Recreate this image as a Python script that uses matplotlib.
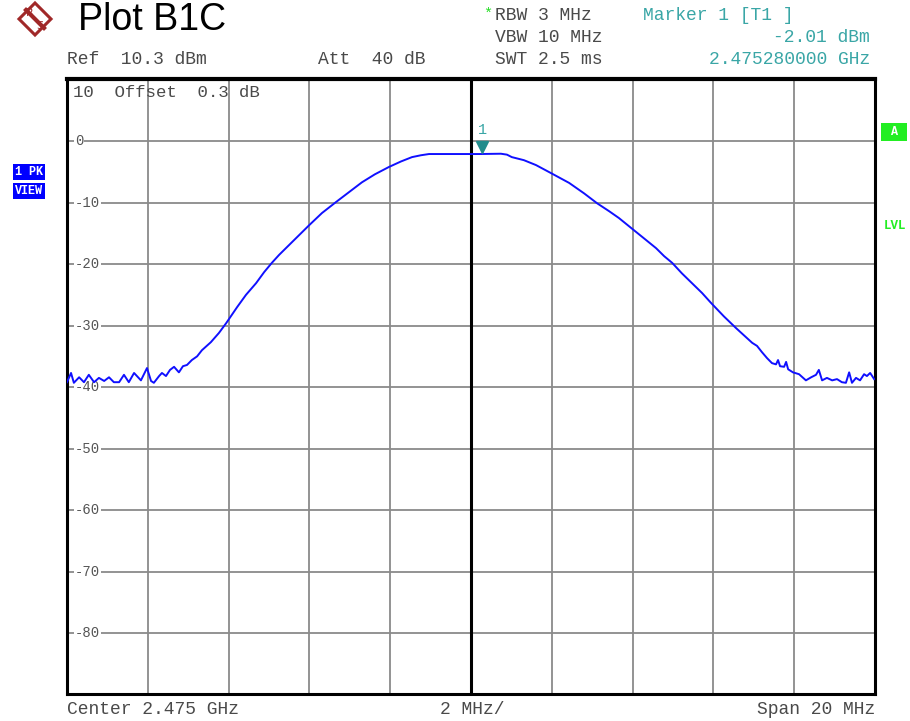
import matplotlib.pyplot as plt
from matplotlib.patches import Polygon

# trace: frequency offset from 2.475 GHz (MHz) and level (dBm)
freq = [-10.0, -9.90, -9.83, -9.70, -9.58, -9.46, -9.33, -9.21, -9.08, -8.96,
        -8.84, -8.71, -8.59, -8.47, -8.34, -8.17, -8.02, -7.92, -7.85, -7.72,
        -7.65, -7.55, -7.45, -7.35, -7.23, -7.13, -7.03, -6.91, -6.78, -6.66,
        -6.44, -6.24, -6.06, -5.79, -5.57, -5.32, -5.12, -4.93, -4.75, -4.38,
        -4.01, -3.69, -3.34, -3.02, -2.70, -2.38, -2.03, -1.73, -1.46, -1.24,
        -1.04, 0.20, 0.74, 0.89, 1.01, 1.31, 1.61, 1.98, 2.43, 2.80,
        3.12, 3.42, 3.66, 3.96, 4.28, 4.58, 4.78, 4.98, 5.22, 5.47,
        5.72, 5.94, 6.26, 6.56, 6.81, 6.96, 7.08, 7.20, 7.33, 7.45,
        7.55, 7.60, 7.65, 7.75, 7.80, 7.85, 7.97, 8.12, 8.29, 8.42,
        8.54, 8.61, 8.69, 8.81, 8.94, 9.06, 9.18, 9.28, 9.36, 9.43,
        9.53, 9.63, 9.73, 9.80, 9.88, 9.98]
level = [-39.2, -37.7, -39.3, -38.4, -39.2, -38.0, -39.2, -38.5, -39.0, -38.4,
         -39.2, -39.2, -38.0, -39.2, -37.7, -38.9, -36.9, -39.0, -39.3, -38.2,
         -37.7, -38.2, -37.2, -36.7, -37.6, -36.6, -36.4, -35.6, -35.0, -34.0,
         -32.7, -31.2, -29.6, -27.0, -25.0, -23.1, -21.3, -19.8, -18.5, -16.1,
         -13.7, -11.7, -9.9, -8.3, -6.7, -5.4, -4.2, -3.3, -2.6, -2.3,
         -2.1, -2.1, -2.05, -2.2, -2.6, -3.1, -3.9, -5.2, -6.8, -8.5,
         -10.1, -11.4, -12.5, -14.1, -15.8, -17.4, -18.7, -19.8, -21.5, -23.1,
         -24.7, -26.3, -28.5, -30.4, -31.9, -32.8, -33.3, -34.3, -35.3, -36.1,
         -36.3, -35.6, -36.6, -36.7, -35.9, -37.1, -37.6, -37.9, -38.9, -38.4,
         -38.0, -37.2, -38.9, -38.5, -38.9, -38.7, -39.2, -39.3, -37.6, -39.3,
         -38.5, -38.9, -37.9, -38.2, -37.7, -38.7]

marker_f = 0.28
marker_lvl = -2.01
y_grid = [0, -10, -20, -30, -40, -50, -60, -70, -80]
x_grid = [-8, -6, -4, -2, 2, 4, 6, 8]

W, H = 910, 721
mono = 'Liberation Mono'
grey_txt = '#4a4a4a'
teal = '#3aa6a6'
fs = 13


def px(x, y):
    return x / W, 1 - y / H


fig = plt.figure(figsize=(W / 100, H / 100), dpi=100)
ax = fig.add_axes([67 / W, 1 - 694 / H, 808 / W, 615 / H])
ax.set_xlim(-10, 10)
ax.set_ylim(-89.9, 10.1)
ax.set_xticks([])
ax.set_yticks([])
for s in ax.spines.values():
    s.set_linewidth(2.2)
    s.set_color('black')
ax.spines['top'].set_linewidth(3)

for g in y_grid:
    ax.axhline(g, color='#8a8a8a', lw=1.3, zorder=1)
for g in x_grid:
    ax.axvline(g, color='#8a8a8a', lw=1.3, zorder=1)
ax.axvline(0, color='black', lw=2.2, zorder=1)

# level labels on the left edge
for g in y_grid:
    ax.text(-9.8, g, str(g), family=mono, fontsize=10, color='#555555',
            va='center', ha='left', zorder=2,
            bbox=dict(facecolor='white', edgecolor='none', pad=0.6))
ax.text(-9.85, 7.9, '10  Offset  0.3 dB', family=mono, fontsize=12.5,
        color=grey_txt, va='center', ha='left', zorder=3)

ax.plot(freq, level, color='#1010ff', lw=1.4, zorder=4)

# marker 1
ax.plot([marker_f], [marker_lvl + 1.1], marker='v', color='#218c8c',
        markersize=8, zorder=5)
ax.text(marker_f, marker_lvl + 2.6, '1', family=mono, fontsize=11,
        color=teal, ha='center', va='bottom', zorder=5)

# header
d = 16
diamond = Polygon([px(35, 19 - d), px(35 + d, 19), px(35, 19 + d), px(35 - d, 19)],
                  closed=True, transform=fig.transFigure, facecolor='white',
                  edgecolor='#a02828', lw=2.2)
fig.patches.append(diamond)
fig.lines.append(plt.Line2D([px(26, 10)[0], px(44, 28)[0]], [px(26, 10)[1], px(44, 28)[1]],
                            transform=fig.transFigure, color='#a02828', lw=3))
fig.text(*px(30, 13), 'R', fontsize=8, color='#a02828', ha='center', va='center')
fig.text(*px(40, 26), 'S', fontsize=8, color='#a02828', ha='center', va='center')
fig.text(*px(78, 20), 'Plot B1C', fontsize=27, family='Liberation Sans',
         color='black', ha='left', va='center')

fig.text(*px(483, 14), '*', family=mono, fontsize=11, color='#22dd22',
         ha='left', va='center')
fig.text(*px(495, 15), 'RBW 3 MHz', family=mono, fontsize=fs, color=grey_txt,
         ha='left', va='center')
fig.text(*px(495, 37), 'VBW 10 MHz', family=mono, fontsize=fs, color=grey_txt,
         ha='left', va='center')
fig.text(*px(495, 59), 'SWT 2.5 ms', family=mono, fontsize=fs, color=grey_txt,
         ha='left', va='center')
fig.text(*px(643, 15), 'Marker 1 [T1 ]', family=mono, fontsize=fs, color=teal,
         ha='left', va='center')
fig.text(*px(870, 37), '-2.01 dBm', family=mono, fontsize=fs, color=teal,
         ha='right', va='center')
fig.text(*px(870, 59), '2.475280000 GHz', family=mono, fontsize=fs, color=teal,
         ha='right', va='center')
fig.text(*px(67, 59), 'Ref  10.3 dBm', family=mono, fontsize=fs, color=grey_txt,
         ha='left', va='center')
fig.text(*px(318, 59), 'Att  40 dB', family=mono, fontsize=fs, color=grey_txt,
         ha='left', va='center')

# side annotations
fig.text(*px(29, 172), '1 PK', family=mono, fontsize=8.5, fontweight='bold',
         color='white', ha='center', va='center',
         bbox=dict(facecolor='#0000ff', edgecolor='none', pad=1.2))
fig.text(*px(29, 191), 'VIEW', family=mono, fontsize=8.5, fontweight='bold',
         color='white', ha='center', va='center',
         bbox=dict(facecolor='#0000ff', edgecolor='none', pad=1.8))
fig.text(*px(894, 132), ' A ', family=mono, fontsize=8.5, fontweight='bold',
         color='white', ha='center', va='center',
         bbox=dict(facecolor='#22ee22', edgecolor='none', pad=2))
fig.text(*px(895, 226), 'LVL', family=mono, fontsize=9, fontweight='bold',
         color='#22ee22', ha='center', va='center')

# footer
fig.text(*px(67, 710), 'Center 2.475 GHz', family=mono, fontsize=fs,
         color=grey_txt, ha='left', va='center')
fig.text(*px(472, 710), '2 MHz/', family=mono, fontsize=fs,
         color=grey_txt, ha='center', va='center')
fig.text(*px(875, 710), 'Span 20 MHz', family=mono, fontsize=fs,
         color=grey_txt, ha='right', va='center')

fig.savefig('out.png', dpi=100)
